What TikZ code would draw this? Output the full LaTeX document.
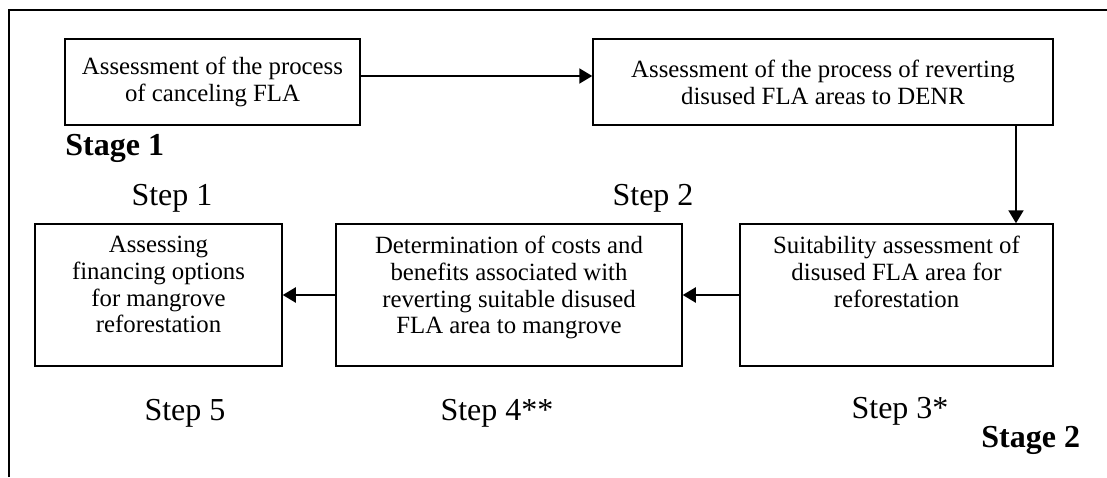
\documentclass[tikz,border=0pt]{standalone}
\usepackage{fontspec}
\setmainfont{Liberation Serif}
\usetikzlibrary{arrows.meta}
\tikzset{
  box/.style={draw, line width=0.75pt, inner sep=0pt, align=center, font=\fontsize{12.4}{13.4}\selectfont},
  lbl/.style={inner sep=0pt, anchor=base, font=\fontsize{16}{18}\selectfont},
  stagelbl/.style={inner sep=0pt, anchor=base west, font=\fontsize{16}{18}\selectfont\bfseries},
  arr/.style={line width=1pt, -{Triangle[length=6.5pt,width=7.5pt]}},
  frame/.style={line width=1.1pt}
}
\newcommand{\lowbox}[2]{\parbox[c][71pt][t]{#1}{\centering\vspace*{6pt}#2\par}}
\begin{document}
\begin{tikzpicture}[x=0.5pt,y=-0.5pt]
\useasboundingbox (0,0) rectangle (1107,477);
% outer frame (only top and left visible)
\draw[frame] (9,477) -- (9,10) -- (1107,10);
% top row
\node[box, minimum width=147.5pt, minimum height=43pt] (b1) at (212.5,82) {Assessment of the process\\of canceling FLA};
\node[box, minimum width=230pt, minimum height=43pt] (b2) at (823,82) {Assessment of the process of reverting\\disused FLA areas to DENR};
% bottom row
\node[box] (b3) at (896.5,295) {\lowbox{156.5pt}{Suitability assessment of\\disused FLA area for\\reforestation}};
\node[box] (b4) at (509,295) {\lowbox{173pt}{Determination of costs and\\benefits associated with\\reverting suitable disused\\FLA area to mangrove}};
\node[box] (b5) at (158.5,295) {\lowbox{123.5pt}{Assessing\\financing options\\for mangrove\\reforestation}};
% labels
\node[stagelbl] (s1) at (65,155) {Stage 1};
\node[stagelbl] (s2) at (981,447) {Stage 2};
\node[lbl] (l1) at (172,205) {Step 1};
\node[lbl] (l2) at (653,205) {Step 2};
\node[lbl] (l3) at (900,418) {Step 3*};
\node[lbl] (l4) at (497,420) {Step 4**};
\node[lbl] (l5) at (185,420) {Step 5};
% connectors
\draw[arr] ([yshift=3pt]b1.east) -- ([yshift=3pt]b2.west);
\draw[arr] ([xshift=96.5pt]b2.south) -- ([xshift=59.75pt]b3.north);
\draw[arr] (b3.west) -- (b4.east);
\draw[arr] (b4.west) -- (b5.east);
\end{tikzpicture}
\end{document}
